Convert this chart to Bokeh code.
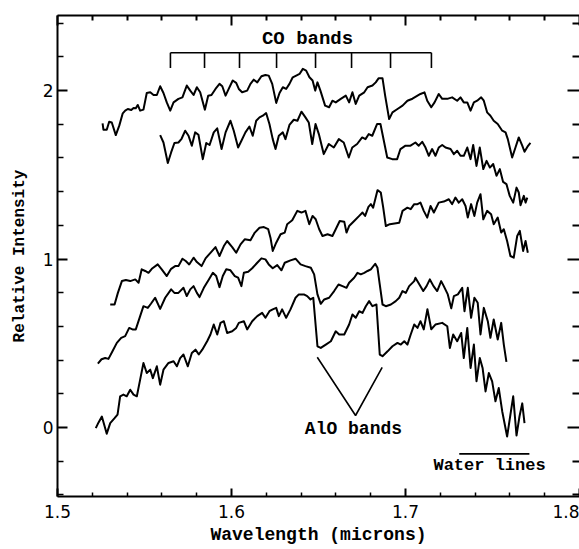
from bokeh.plotting import figure
from bokeh.models import Range1d, LinearAxis, FixedTicker, Label
from bokeh.embed import file_html
from bokeh.resources import INLINE

# Five H-band spectra (wavelength in microns, relative intensity incl. offsets)
spec1_wl = [1.5259, 1.5264, 1.5283, 1.5297, 1.5312, 1.5335, 1.5355, 1.5375, 1.5389, 1.5404,
            1.5424, 1.5437, 1.5450, 1.5461, 1.5475, 1.5494, 1.5513, 1.5533, 1.5552, 1.5571,
            1.5590, 1.5609, 1.5628, 1.5648, 1.5667, 1.5695, 1.5718, 1.5743, 1.5763, 1.5782,
            1.5801, 1.5820, 1.5847, 1.5866, 1.5885, 1.5908, 1.5931, 1.5947, 1.5966, 1.5984,
            1.6007, 1.6027, 1.6042, 1.6061, 1.6090, 1.6109, 1.6128, 1.6148, 1.6172, 1.6195,
            1.6214, 1.6234, 1.6257, 1.6276, 1.6295, 1.6314, 1.6333, 1.6352, 1.6372, 1.6391,
            1.6410, 1.6429, 1.6448, 1.6466, 1.6481, 1.6494, 1.6511, 1.6538, 1.6561, 1.6580,
            1.6599, 1.6628, 1.6657, 1.6676, 1.6695, 1.6714, 1.6734, 1.6763, 1.6782, 1.6810,
            1.6829, 1.6845, 1.6868, 1.6883, 1.6906, 1.6925, 1.6954, 1.6983, 1.7011, 1.7040,
            1.7069, 1.7086, 1.7109, 1.7125, 1.7148, 1.7167, 1.7191, 1.7211, 1.7240, 1.7268,
            1.7297, 1.7316, 1.7335, 1.7355, 1.7374, 1.7393, 1.7412, 1.7435, 1.7450, 1.7469,
            1.7488, 1.7507, 1.7530, 1.7556, 1.7575, 1.7588, 1.7613, 1.7632, 1.7651, 1.7671,
            1.7684, 1.7701, 1.7718]
spec1_int = [1.805, 1.768, 1.768, 1.815, 1.811, 1.736, 1.792, 1.865, 1.881, 1.891,
             1.885, 1.897, 1.895, 1.915, 1.881, 1.887, 1.986, 1.990, 1.974, 1.974,
             2.026, 1.986, 1.930, 1.881, 1.930, 1.951, 1.960, 2.030, 2.000, 1.974,
             2.020, 1.990, 1.887, 1.970, 1.974, 2.010, 2.040, 2.026, 1.970, 2.010,
             2.060, 2.046, 2.010, 1.990, 2.000, 2.040, 2.065, 2.049, 2.085, 2.093,
             2.089, 2.040, 1.927, 1.986, 2.020, 2.010, 2.040, 2.079, 2.089, 2.099,
             2.129, 2.119, 2.079, 2.060, 2.000, 2.049, 2.000, 1.911, 1.901, 1.940,
             1.930, 1.951, 1.970, 1.930, 1.990, 1.921, 1.970, 1.990, 2.020, 2.030,
             2.049, 2.073, 2.073, 1.970, 1.831, 1.871, 1.891, 1.911, 1.940, 1.952,
             1.970, 1.980, 1.990, 1.940, 1.901, 1.930, 1.980, 1.951, 1.951, 1.960,
             1.940, 1.960, 1.930, 1.930, 1.881, 1.930, 1.940, 1.960, 1.940, 1.871,
             1.851, 1.821, 1.802, 1.762, 1.752, 1.712, 1.603, 1.662, 1.722, 1.673,
             1.637, 1.667, 1.689]

spec2_wl = [1.5590, 1.5609, 1.5634, 1.5653, 1.5672, 1.5695, 1.5713, 1.5734, 1.5753, 1.5772,
            1.5791, 1.5810, 1.5835, 1.5855, 1.5874, 1.5898, 1.5918, 1.5943, 1.5966, 1.5994,
            1.6013, 1.6038, 1.6057, 1.6080, 1.6103, 1.6122, 1.6142, 1.6161, 1.6180, 1.6199,
            1.6218, 1.6237, 1.6253, 1.6272, 1.6295, 1.6310, 1.6333, 1.6358, 1.6379, 1.6402,
            1.6425, 1.6444, 1.6464, 1.6483, 1.6502, 1.6530, 1.6559, 1.6588, 1.6617, 1.6645,
            1.6674, 1.6694, 1.6722, 1.6751, 1.6770, 1.6789, 1.6809, 1.6837, 1.6856, 1.6895,
            1.6924, 1.6952, 1.6971, 1.7000, 1.7029, 1.7057, 1.7076, 1.7096, 1.7115, 1.7134,
            1.7153, 1.7172, 1.7191, 1.7211, 1.7230, 1.7259, 1.7278, 1.7297, 1.7316, 1.7335,
            1.7355, 1.7374, 1.7389, 1.7408, 1.7427, 1.7447, 1.7466, 1.7485, 1.7504, 1.7523,
            1.7542, 1.7561, 1.7580, 1.7599, 1.7619, 1.7638, 1.7651, 1.7661, 1.7680, 1.7690,
            1.7700]
spec2_int = [1.736, 1.692, 1.570, 1.633, 1.689, 1.692, 1.714, 1.762, 1.732, 1.673,
             1.752, 1.738, 1.593, 1.689, 1.677, 1.752, 1.776, 1.653, 1.752, 1.821,
             1.762, 1.662, 1.702, 1.752, 1.787, 1.732, 1.821, 1.841, 1.851, 1.867,
             1.802, 1.712, 1.653, 1.732, 1.752, 1.712, 1.796, 1.827, 1.821, 1.875,
             1.841, 1.811, 1.683, 1.802, 1.742, 1.623, 1.683, 1.662, 1.712, 1.692,
             1.603, 1.662, 1.683, 1.722, 1.712, 1.742, 1.732, 1.802, 1.802, 1.603,
             1.593, 1.593, 1.653, 1.673, 1.673, 1.692, 1.673, 1.696, 1.662, 1.613,
             1.653, 1.613, 1.662, 1.677, 1.662, 1.653, 1.623, 1.643, 1.613, 1.613,
             1.662, 1.593, 1.677, 1.553, 1.662, 1.534, 1.583, 1.543, 1.564, 1.494,
             1.534, 1.458, 1.445, 1.375, 1.335, 1.424, 1.395, 1.320, 1.375, 1.335,
             1.365]

spec3_wl = [1.5303, 1.5328, 1.5347, 1.5370, 1.5393, 1.5418, 1.5447, 1.5466, 1.5484, 1.5504,
            1.5523, 1.5542, 1.5576, 1.5599, 1.5628, 1.5653, 1.5676, 1.5695, 1.5718, 1.5737,
            1.5757, 1.5782, 1.5801, 1.5828, 1.5851, 1.5879, 1.5908, 1.5931, 1.5956, 1.5975,
            1.6004, 1.6027, 1.6052, 1.6076, 1.6109, 1.6134, 1.6161, 1.6186, 1.6211, 1.6224,
            1.6237, 1.6257, 1.6282, 1.6306, 1.6320, 1.6349, 1.6378, 1.6402, 1.6425, 1.6447,
            1.6466, 1.6484, 1.6504, 1.6523, 1.6552, 1.6580, 1.6599, 1.6622, 1.6648, 1.6661,
            1.6676, 1.6705, 1.6734, 1.6753, 1.6768, 1.6787, 1.6801, 1.6814, 1.6839, 1.6858,
            1.6872, 1.6887, 1.6910, 1.6964, 1.6983, 1.7011, 1.7030, 1.7050, 1.7069, 1.7086,
            1.7105, 1.7125, 1.7144, 1.7163, 1.7191, 1.7220, 1.7249, 1.7268, 1.7287, 1.7306,
            1.7326, 1.7345, 1.7358, 1.7377, 1.7396, 1.7412, 1.7431, 1.7447, 1.7469, 1.7492,
            1.7507, 1.7530, 1.7550, 1.7565, 1.7584, 1.7603, 1.7622, 1.7642, 1.7657, 1.7676,
            1.7690, 1.7703]
spec3_int = [0.730, 0.730, 0.799, 0.869, 0.875, 0.869, 0.879, 0.859, 0.939, 0.929,
             0.918, 0.942, 0.968, 0.939, 0.899, 0.942, 0.958, 0.958, 1.002, 0.988,
             0.968, 1.008, 0.982, 0.958, 1.004, 1.037, 1.071, 1.018, 1.077, 1.107,
             1.071, 1.037, 1.087, 1.117, 1.111, 1.157, 1.186, 1.190, 1.177, 1.127,
             1.048, 1.097, 1.147, 1.157, 1.207, 1.230, 1.286, 1.276, 1.286, 1.207,
             1.256, 1.236, 1.177, 1.137, 1.147, 1.137, 1.177, 1.226, 1.222, 1.157,
             1.196, 1.226, 1.256, 1.276, 1.256, 1.310, 1.326, 1.305, 1.409, 1.395,
             1.305, 1.196, 1.207, 1.216, 1.286, 1.305, 1.296, 1.326, 1.326, 1.335,
             1.286, 1.246, 1.315, 1.276, 1.335, 1.341, 1.355, 1.326, 1.365, 1.335,
             1.355, 1.315, 1.246, 1.326, 1.256, 1.335, 1.385, 1.236, 1.286, 1.266,
             1.207, 1.246, 1.157, 1.177, 1.107, 1.018, 1.008, 1.137, 1.167, 1.048,
             1.107, 1.037]

spec4_wl = [1.5232, 1.5253, 1.5274, 1.5293, 1.5316, 1.5341, 1.5366, 1.5389, 1.5412, 1.5431,
            1.5450, 1.5475, 1.5494, 1.5519, 1.5538, 1.5561, 1.5590, 1.5619, 1.5653, 1.5672,
            1.5695, 1.5724, 1.5743, 1.5763, 1.5782, 1.5801, 1.5816, 1.5841, 1.5870, 1.5893,
            1.5912, 1.5931, 1.5950, 1.5970, 1.5994, 1.6019, 1.6038, 1.6057, 1.6071, 1.6096,
            1.6119, 1.6148, 1.6172, 1.6195, 1.6214, 1.6237, 1.6263, 1.6287, 1.6306, 1.6339,
            1.6368, 1.6397, 1.6425, 1.6456, 1.6475, 1.6494, 1.6513, 1.6533, 1.6561, 1.6590,
            1.6615, 1.6638, 1.6661, 1.6676, 1.6705, 1.6724, 1.6743, 1.6763, 1.6782, 1.6801,
            1.6826, 1.6839, 1.6852, 1.6868, 1.6887, 1.6916, 1.6944, 1.6964, 1.6983, 1.7002,
            1.7021, 1.7050, 1.7057, 1.7080, 1.7102, 1.7121, 1.7140, 1.7161, 1.7182, 1.7205,
            1.7220, 1.7243, 1.7263, 1.7278, 1.7301, 1.7326, 1.7339, 1.7358, 1.7377, 1.7396,
            1.7415, 1.7431, 1.7450, 1.7473, 1.7488, 1.7507, 1.7530, 1.7550, 1.7565, 1.7580]
spec4_int = [0.379, 0.405, 0.412, 0.407, 0.452, 0.502, 0.532, 0.542, 0.591, 0.582,
             0.582, 0.661, 0.720, 0.710, 0.736, 0.770, 0.704, 0.770, 0.820, 0.799,
             0.799, 0.829, 0.780, 0.820, 0.839, 0.799, 0.774, 0.829, 0.879, 0.918,
             0.899, 0.833, 0.899, 0.939, 0.933, 0.899, 0.889, 0.839, 0.918, 0.924,
             0.945, 0.978, 1.004, 0.998, 0.968, 0.945, 0.964, 0.933, 0.978, 0.992,
             1.002, 0.968, 0.958, 0.948, 0.909, 0.790, 0.734, 0.760, 0.770, 0.810,
             0.849, 0.839, 0.829, 0.859, 0.889, 0.918, 0.909, 0.918, 0.929, 0.939,
             0.972, 0.948, 0.849, 0.730, 0.720, 0.730, 0.750, 0.770, 0.810, 0.799,
             0.839, 0.869, 0.889, 0.849, 0.810, 0.839, 0.879, 0.839, 0.810, 0.869,
             0.839, 0.790, 0.707, 0.780, 0.790, 0.829, 0.690, 0.829, 0.651, 0.770,
             0.740, 0.552, 0.710, 0.631, 0.532, 0.641, 0.522, 0.621, 0.492, 0.389]

spec5_wl = [1.5220, 1.5236, 1.5255, 1.5283, 1.5303, 1.5328, 1.5345, 1.5360, 1.5379, 1.5398,
            1.5418, 1.5437, 1.5456, 1.5475, 1.5494, 1.5513, 1.5533, 1.5548, 1.5571, 1.5590,
            1.5609, 1.5638, 1.5667, 1.5686, 1.5705, 1.5724, 1.5749, 1.5772, 1.5793, 1.5812,
            1.5832, 1.5860, 1.5879, 1.5898, 1.5918, 1.5937, 1.5956, 1.5975, 1.6004, 1.6027,
            1.6042, 1.6071, 1.6090, 1.6119, 1.6148, 1.6176, 1.6195, 1.6218, 1.6237, 1.6257,
            1.6272, 1.6291, 1.6314, 1.6339, 1.6368, 1.6387, 1.6416, 1.6435, 1.6454, 1.6470,
            1.6494, 1.6513, 1.6542, 1.6571, 1.6599, 1.6619, 1.6648, 1.6676, 1.6695, 1.6714,
            1.6734, 1.6753, 1.6772, 1.6791, 1.6810, 1.6833, 1.6852, 1.6868, 1.6897, 1.6925,
            1.6954, 1.6973, 1.6993, 1.7011, 1.7030, 1.7050, 1.7069, 1.7086, 1.7105, 1.7126,
            1.7148, 1.7172, 1.7211, 1.7240, 1.7255, 1.7274, 1.7297, 1.7320, 1.7335, 1.7355,
            1.7374, 1.7393, 1.7408, 1.7427, 1.7443, 1.7460, 1.7479, 1.7498, 1.7517, 1.7536,
            1.7556, 1.7584, 1.7603, 1.7619, 1.7638, 1.7655, 1.7671, 1.7684]
spec5_int = [-0.004, 0.030, 0.065, -0.037, 0.026, 0.055, 0.076, 0.185, 0.195, 0.185,
             0.224, 0.195, 0.185, 0.284, 0.383, 0.323, 0.343, 0.293, 0.363, 0.254,
             0.343, 0.383, 0.393, 0.363, 0.412, 0.433, 0.363, 0.442, 0.462, 0.433,
             0.462, 0.512, 0.552, 0.611, 0.552, 0.621, 0.631, 0.561, 0.571, 0.591,
             0.621, 0.631, 0.582, 0.631, 0.661, 0.680, 0.651, 0.690, 0.701, 0.710,
             0.661, 0.701, 0.651, 0.701, 0.770, 0.790, 0.790, 0.780, 0.760, 0.770,
             0.482, 0.472, 0.492, 0.512, 0.571, 0.552, 0.552, 0.611, 0.671, 0.651,
             0.690, 0.680, 0.720, 0.750, 0.720, 0.730, 0.433, 0.423, 0.452, 0.482,
             0.502, 0.492, 0.512, 0.492, 0.552, 0.611, 0.591, 0.631, 0.582, 0.702,
             0.583, 0.611, 0.621, 0.601, 0.472, 0.552, 0.512, 0.561, 0.412, 0.591,
             0.353, 0.492, 0.274, 0.412, 0.353, 0.214, 0.323, 0.274, 0.155, 0.234,
             0.095, -0.054, 0.076, 0.185, -0.048, 0.065, 0.143, 0.026]

# Feature markers (microns)
co_bands = [1.5649, 1.5845, 1.6046, 1.6259, 1.6483, 1.6690, 1.6914, 1.7149]
alo_bands = [1.6493, 1.6866]
water_range = [1.7309, 1.7712]

# Tick positions
x_major = [1.5, 1.6, 1.7, 1.8]
x_minor = [1.52, 1.54, 1.56, 1.58, 1.62, 1.64, 1.66, 1.68, 1.72, 1.74, 1.76, 1.78]
y_major = [0, 1, 2]
y_minor = [-0.4, -0.2, 0.2, 0.4, 0.6, 0.8, 1.2, 1.4, 1.6, 1.8, 2.2, 2.4]

TEXT_FONT = "Liberation Mono"
NUM_FONT = "DejaVu Sans"

p = figure(width=579, height=549,
           x_range=Range1d(1.5, 1.8), y_range=Range1d(-0.41, 2.446),
           output_backend="svg", toolbar_location=None,
           min_border_left=57, min_border_right=0,
           min_border_top=15, min_border_bottom=53,
           x_axis_label="Wavelength (microns)",
           y_axis_label="Relative Intensity")
p.grid.visible = False
p.outline_line_color = None
p.background_fill_color = "white"
p.border_fill_color = "white"


def ticks_in(ax, major_in, minor_in):
    ax.major_tick_in = major_in
    ax.major_tick_out = 0
    ax.minor_tick_in = minor_in
    ax.minor_tick_out = 0
    ax.major_tick_line_color = "black"
    ax.minor_tick_line_color = "black"
    ax.major_tick_line_width = 2
    ax.minor_tick_line_width = 1.5
    ax.axis_line_width = 2
    ax.axis_line_color = "black"


def tick_only_axis(ticks, length, line=False):
    # an unlabelled axis carrying only short inward ticks
    ax = LinearAxis(ticker=FixedTicker(ticks=[], minor_ticks=ticks))
    ax.major_tick_in = 0
    ax.major_tick_out = 0
    ax.minor_tick_in = length
    ax.minor_tick_out = 0
    ax.minor_tick_line_color = "black"
    ax.minor_tick_line_width = 2
    ax.axis_line_width = 2
    ax.axis_line_color = "black" if line else None
    ax.major_label_standoff = 0
    ax.axis_label_standoff = 0
    return ax


xax = p.xaxis[0]
xax.ticker = FixedTicker(ticks=x_major, minor_ticks=x_minor)
ticks_in(xax, 8, 4)
xax.major_label_text_font = NUM_FONT
xax.major_label_text_font_size = "17px"
xax.major_label_text_color = "black"
xax.major_label_standoff = 8
xax.axis_label_text_font = TEXT_FONT
xax.axis_label_text_font_style = "bold"
xax.axis_label_text_font_size = "18px"
xax.axis_label_text_color = "black"
xax.axis_label_standoff = 4

yax = p.yaxis[0]
yax.ticker = FixedTicker(ticks=y_major, minor_ticks=y_minor)
ticks_in(yax, 10, 6)
yax.major_label_text_font = NUM_FONT
yax.major_label_text_font_size = "17px"
yax.major_label_text_color = "black"
yax.major_label_standoff = 4
yax.axis_label_text_font = TEXT_FONT
yax.axis_label_text_font_style = "bold"
yax.axis_label_text_font_size = "16px"
yax.axis_label_text_color = "black"
yax.axis_label_standoff = 11

# top frame edge: longer ticks at the tenths, short ones between
p.add_layout(tick_only_axis(x_major, 10, line=True), "above")
p.add_layout(tick_only_axis(x_minor, 5), "above")

# right edge: ticks only
p.add_layout(tick_only_axis(y_major, 12), "right")
p.add_layout(tick_only_axis(y_minor, 7), "right")

# spectra
for wl, inten in [(spec1_wl, spec1_int), (spec2_wl, spec2_int), (spec3_wl, spec3_int),
                  (spec4_wl, spec4_int), (spec5_wl, spec5_int)]:
    p.line(wl, inten, line_color="black", line_width=2, line_join="round")

# CO band-head bracket
p.segment(x0=co_bands[0], x1=co_bands[-1], y0=2.225, y1=2.225, line_color="black", line_width=1.6)
p.segment(x0=co_bands, x1=co_bands, y0=[2.225] * len(co_bands), y1=[2.135] * len(co_bands),
          line_color="black", line_width=1.6)

# AlO pointer
p.line([alo_bands[0], 1.6713, alo_bands[1]], [0.417, 0.071, 0.357], line_color="black", line_width=1.6)

# water line bar
p.segment(x0=water_range[0], x1=water_range[1], y0=-0.157, y1=-0.157, line_color="black", line_width=1.6)

for txt, x, y, size in [("CO bands", 1.6437, 2.304, "19px"),
                        ("AlO bands", 1.6701, -0.012, "18px"),
                        ("Water lines", 1.7483, -0.226, "17px")]:
    p.add_layout(Label(x=x, y=y, text=txt, text_align="center", text_baseline="middle",
                       text_font=TEXT_FONT, text_font_style="bold", text_font_size=size,
                       text_color="black"))

open("out.html", "w").write(file_html(p, INLINE))
